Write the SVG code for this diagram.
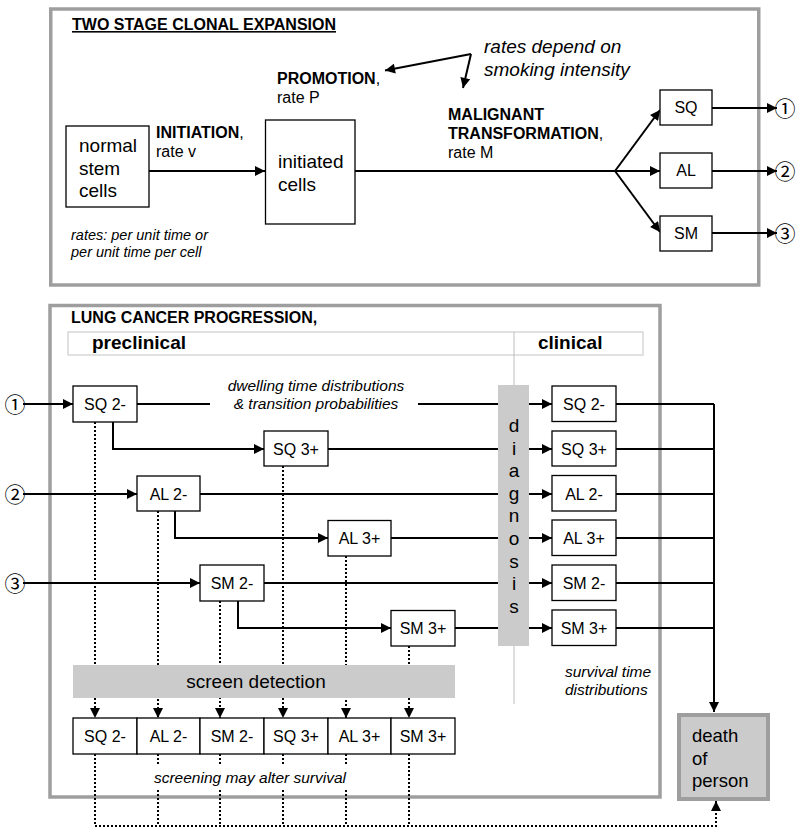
<svg xmlns="http://www.w3.org/2000/svg" width="800" height="835" viewBox="0 0 800 835">
<defs>
<marker id="ah" viewBox="0 0 10 10" refX="10" refY="5" markerWidth="11" markerHeight="10" markerUnits="userSpaceOnUse" orient="auto"><path d="M0,0 L10,5 L0,10 z" fill="#000"/></marker>
<style>
text{font-family:"Liberation Sans",Arial,sans-serif;fill:#000}
.panel{fill:none;stroke:#9e9e9e;stroke-width:3.5}
.box{fill:#fff;stroke:#000;stroke-width:1.3}
.lbl{font-size:16px;text-anchor:middle}
.big{font-size:19px}
.bold{font-size:16px;font-weight:bold}
.reg{font-size:16px}
.it{font-style:italic}
.ln{fill:none;stroke:#000;stroke-width:2}
.dot{fill:none;stroke:#000;stroke-width:2;stroke-dasharray:2,2}
.bar{fill:#cbcbcb}
.circ{font-family:"Noto Sans CJK JP","DejaVu Sans",sans-serif;font-size:21px;text-anchor:middle}
</style>
</defs>
<rect width="800" height="835" fill="#fff"/>

<!-- panels -->
<rect class="panel" x="50.75" y="9" width="708" height="276"/>
<text x="72" y="30" class="bold" text-decoration="underline">TWO STAGE CLONAL EXPANSION</text>
<rect class="panel" x="50" y="305.5" width="610" height="491.5"/>
<text x="71" y="323" class="bold">LUNG CANCER PROGRESSION,</text>
<rect x="68" y="332" width="575" height="23" fill="none" stroke="#d8d8d8" stroke-width="1.5"/>
<text x="92" y="349" font-size="19" font-weight="bold">preclinical</text>
<text x="538" y="349" font-size="19" font-weight="bold">clinical</text>
<line x1="514" y1="332" x2="514" y2="386" stroke="#bdbdbd" stroke-width="1"/>
<line x1="514" y1="646" x2="514" y2="704" stroke="#bdbdbd" stroke-width="1"/>

<!-- top labels -->
<text x="156" y="138" class="bold">INITIATION<tspan font-weight="normal">,</tspan></text>
<text x="156" y="157" class="reg">rate v</text>
<text x="277" y="84" class="bold">PROMOTION<tspan font-weight="normal">,</tspan></text>
<text x="277" y="103" class="reg">rate P</text>
<text x="448" y="120" class="bold">MALIGNANT</text>
<text x="448" y="139" class="bold">TRANSFORMATION<tspan font-weight="normal">,</tspan></text>
<text x="448" y="158" class="reg">rate M</text>
<text x="484" y="53" font-size="19" class="it">rates depend on</text>
<text x="484" y="76" font-size="19" class="it">smoking intensity</text>
<text x="71" y="240" font-size="14.5" class="it">rates: per unit time or</text>
<text x="71" y="257" font-size="14.5" class="it">per unit time per cell</text>
<text x="316" y="391" font-size="15.5" class="it" text-anchor="middle">dwelling time distributions</text>
<text x="316" y="409" font-size="15.5" class="it" text-anchor="middle">&amp; transition probabilities</text>
<text x="565" y="677" font-size="15.5" class="it">survival time</text>
<text x="565" y="695" font-size="15.5" class="it">distributions</text>

<!-- connectors -->
<g id="connectors">
<path class="ln" d="M471,54 L385,70.5" marker-end="url(#ah)"/>
<path class="ln" d="M471,54 L463,88" marker-end="url(#ah)"/>
<path class="ln" d="M149,171 L265,171" marker-end="url(#ah)"/>
<path class="ln" d="M355,171 L615,171"/>
<path class="ln" d="M615,171 L660,110" marker-end="url(#ah)"/>
<path class="ln" d="M615,171 L660,171" marker-end="url(#ah)"/>
<path class="ln" d="M615,171 L660,232" marker-end="url(#ah)"/>
<path class="ln" d="M712,108 L777,108" marker-end="url(#ah)"/>
<path class="ln" d="M712,171 L777,171" marker-end="url(#ah)"/>
<path class="ln" d="M712,233 L777,233" marker-end="url(#ah)"/>

<!-- dotted screening lines -->
<path class="dot" d="M95,422 V718" marker-end="url(#ah)"/>
<path class="dot" d="M158,511 V718" marker-end="url(#ah)"/>
<path class="dot" d="M220,601 V718" marker-end="url(#ah)"/>
<path class="dot" d="M283,466 V718" marker-end="url(#ah)"/>
<path class="dot" d="M346,556 V718" marker-end="url(#ah)"/>
<path class="dot" d="M409,646 V718" marker-end="url(#ah)"/>
<path class="dot" d="M158,754 V826 M220,754 V826 M283,754 V826 M346,754 V826 M409,754 V826"/>
<path class="dot" d="M95,754 V826 H716 V801" marker-end="url(#ah)"/>

<!-- left inputs -->
<path class="ln" d="M23,404 L73,404" marker-end="url(#ah)"/>
<path class="ln" d="M23,494 L137,494" marker-end="url(#ah)"/>
<path class="ln" d="M23,583 L200,583" marker-end="url(#ah)"/>
<!-- branches -->
<path class="ln" d="M113,422 V449 H264" marker-end="url(#ah)"/>
<path class="ln" d="M175,511 V538 H328" marker-end="url(#ah)"/>
<path class="ln" d="M238,601 V628 H391" marker-end="url(#ah)"/>
<!-- to clinical -->
<path class="ln" d="M137,404 H210"/>
<path class="ln" d="M418,404 H552" marker-end="url(#ah)"/>
<path class="ln" d="M328,449 H552" marker-end="url(#ah)"/>
<path class="ln" d="M200,494 H552" marker-end="url(#ah)"/>
<path class="ln" d="M391,538 H552" marker-end="url(#ah)"/>
<path class="ln" d="M264,583 H552" marker-end="url(#ah)"/>
<path class="ln" d="M455,628 H552" marker-end="url(#ah)"/>
<!-- clinical to death -->
<path class="ln" d="M616,404 H714 M616,449 H714 M616,494 H714 M616,538 H714 M616,583 H714 M616,628 H714"/>
<path class="ln" d="M714,404 V712" marker-end="url(#ah)"/>
</g>

<!-- circled numbers -->
<text x="785" y="115.5" class="circ">①</text>
<text x="785" y="178.5" class="circ">②</text>
<text x="785" y="240.5" class="circ">③</text>
<text x="15" y="411.5" class="circ">①</text>
<text x="15" y="501.5" class="circ">②</text>
<text x="15" y="590.5" class="circ">③</text>

<!-- bars -->
<g id="diagnosis">
<rect class="bar" x="498" y="385" width="31" height="261"/>
<g font-size="19" text-anchor="middle">
<text x="514" y="432">d</text><text x="514" y="454.6">i</text><text x="514" y="477.2">a</text><text x="514" y="499.8">g</text><text x="514" y="522.4">n</text><text x="514" y="545">o</text><text x="514" y="567.6">s</text><text x="514" y="590.2">i</text><text x="514" y="612.8">s</text>
</g>
</g>
<g id="screen-detection">
<rect class="bar" x="73" y="665" width="382" height="33"/>
<text x="256" y="688" font-size="19" text-anchor="middle">screen detection</text>
</g>

<rect x="150" y="766" width="202" height="24" fill="#fff"/>
<text x="250" y="783" font-size="15.5" class="it" text-anchor="middle">screening may alter survival</text>

<!-- top nodes -->
<g id="normal-stem-cells"><rect class="box" x="66" y="126" width="83" height="81"/>
<text x="79" y="152" class="big">normal</text><text x="79" y="174.5" class="big">stem</text><text x="79" y="197" class="big">cells</text></g>
<g id="initiated-cells"><rect class="box" x="265.5" y="120" width="89.5" height="104"/>
<text x="278" y="168" class="big">initiated</text><text x="278" y="190.5" class="big">cells</text></g>
<g id="top-SQ"><rect class="box" x="660" y="90" width="52" height="35"/><text x="686" y="113" class="lbl">SQ</text></g>
<g id="top-AL"><rect class="box" x="660" y="153" width="52" height="35"/><text x="686" y="176" class="lbl">AL</text></g>
<g id="top-SM"><rect class="box" x="660" y="216" width="52" height="35"/><text x="686" y="239" class="lbl">SM</text></g>

<!-- preclinical nodes -->
<g id="pre-SQ2"><rect class="box" x="73" y="386" width="64" height="36"/><text x="105" y="409.5" class="lbl">SQ 2-</text></g>
<g id="pre-SQ3"><rect class="box" x="264" y="431" width="64" height="35"/><text x="296" y="454.5" class="lbl">SQ 3+</text></g>
<g id="pre-AL2"><rect class="box" x="137" y="476" width="63" height="35"/><text x="168.5" y="499.5" class="lbl">AL 2-</text></g>
<g id="pre-AL3"><rect class="box" x="328" y="520.5" width="63" height="35.5"/><text x="359.5" y="543.5" class="lbl">AL 3+</text></g>
<g id="pre-SM2"><rect class="box" x="200" y="565" width="64" height="36"/><text x="232" y="588.5" class="lbl">SM 2-</text></g>
<g id="pre-SM3"><rect class="box" x="391" y="610.5" width="64" height="35.5"/><text x="423" y="633.5" class="lbl">SM 3+</text></g>

<!-- clinical nodes -->
<g id="cl-SQ2"><rect class="box" x="552" y="386" width="64" height="35.5"/><text x="584" y="409.5" class="lbl">SQ 2-</text></g>
<g id="cl-SQ3"><rect class="box" x="552" y="431" width="64" height="35"/><text x="584" y="454.5" class="lbl">SQ 3+</text></g>
<g id="cl-AL2"><rect class="box" x="552" y="475.5" width="64" height="35.5"/><text x="584" y="499.5" class="lbl">AL 2-</text></g>
<g id="cl-AL3"><rect class="box" x="552" y="520" width="64" height="35.5"/><text x="584" y="543.5" class="lbl">AL 3+</text></g>
<g id="cl-SM2"><rect class="box" x="552" y="565" width="64" height="35.5"/><text x="584" y="588.5" class="lbl">SM 2-</text></g>
<g id="cl-SM3"><rect class="box" x="552" y="610" width="64" height="35.5"/><text x="584" y="633.5" class="lbl">SM 3+</text></g>

<!-- screening nodes -->
<g id="scr-SQ2"><rect class="box" x="73" y="718" width="64" height="36"/><text x="105" y="741.5" class="lbl">SQ 2-</text></g>
<g id="scr-AL2"><rect class="box" x="137" y="718" width="63" height="36"/><text x="168.5" y="741.5" class="lbl">AL 2-</text></g>
<g id="scr-SM2"><rect class="box" x="200" y="718" width="64" height="36"/><text x="232" y="741.5" class="lbl">SM 2-</text></g>
<g id="scr-SQ3"><rect class="box" x="264" y="718" width="64" height="36"/><text x="296" y="741.5" class="lbl">SQ 3+</text></g>
<g id="scr-AL3"><rect class="box" x="328" y="718" width="63" height="36"/><text x="359.5" y="741.5" class="lbl">AL 3+</text></g>
<g id="scr-SM3"><rect class="box" x="391" y="718" width="64" height="36"/><text x="423" y="741.5" class="lbl">SM 3+</text></g>

<!-- death -->
<g id="death"><rect x="679" y="715" width="89" height="84" fill="#cbcbcb" stroke="#9e9e9e" stroke-width="4"/>
<text x="692" y="742" font-size="18.5">death</text><text x="692" y="764.5" font-size="18.5">of</text><text x="692" y="787" font-size="18.5">person</text></g>
</svg>
